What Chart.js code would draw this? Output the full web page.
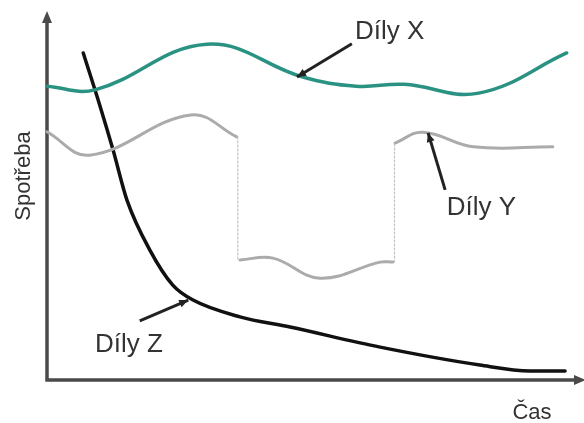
<!DOCTYPE html>
<html>
<head>
<meta charset="utf-8">
<script src="https://cdn.jsdelivr.net/npm/chart.js@4/dist/chart.umd.min.js"></script>
<style>
  html,body{margin:0;padding:0;background:#fff;}
  #wrap{width:584px;height:423px;position:relative;}
</style>
</head>
<body>
<div id="wrap"><canvas id="chart"></canvas></div>
<script>
/* ── Data (time 0–100, consumption 0–100) ── */
const dilyXTime=[0,9,30,48,58,67,81,97.5];
const dilyXVal=[80.5,79.5,92,83,80.5,81,78.6,89.6];

const dilyY1Time=[0,8,27,35.6];
const dilyY1Val=[68,61.6,72.6,66.6];
const dilyY2Time=[36.2,42.4,51.2,62.5,64.9];
const dilyY2Val=[32.9,33.4,27.9,32.3,32.3];
const dilyY3Time=[65.3,70.5,80,94.9];
const dilyY3Val=[64.9,67.9,63.9,63.9];
const dropTime=[35.8,65.2];
const dropTop=[66.6,64.9];
const dropBottom=[32.9,32.3];

const dilyZTime=[6.8,9.9,12.4,15,19.3,23.6,27.4,36.2,45.6,62.5,81.2,90.6,97.2];
const dilyZVal=[89.6,75.3,63,49.3,35.6,26,21.9,17.3,14.5,9,4.1,2.5,2.5];

/* callouts: text anchor + arrow from/to, same units */
const calloutText=['Díly X','Díly Y','Díly Z'];
const calloutX=[57.8,75,9];
const calloutY=[95.3,47.1,9.6];
const arrowFrom=[[57.2,92.1],[74.7,52.1],[17.4,16.2]];
const arrowTo=[[46.9,83.0],[71.5,67.7],[26.5,21.9]];

const axisTitleY='Spotřeba';
const axisTitleX='Čas';

const pts=(xs,ys)=>xs.map((x,i)=>({x,y:ys[i]}));
const TEXT='#333';
const AXIS='#4a4a4a';

function arrowHead(ctx,x1,y1,x2,y2,len,w){
  const a=Math.atan2(y2-y1,x2-x1);
  ctx.beginPath();
  ctx.moveTo(x2,y2);
  ctx.lineTo(x2-len*Math.cos(a)+w*Math.sin(a),y2-len*Math.sin(a)-w*Math.cos(a));
  ctx.lineTo(x2-len*Math.cos(a)-w*Math.sin(a),y2-len*Math.sin(a)+w*Math.cos(a));
  ctx.closePath();
  ctx.fill();
}

/* ── Axes with arrows + texts ── */
const decor={
  id:'decor',
  beforeDatasetsDraw(chart){
    const {ctx,chartArea:ca}=chart;
    ctx.save();
    ctx.strokeStyle=AXIS;ctx.fillStyle=AXIS;ctx.lineWidth=3.5;
    ctx.beginPath();
    ctx.moveTo(ca.left,20);ctx.lineTo(ca.left,ca.bottom);ctx.lineTo(chart.width-4,ca.bottom);
    ctx.stroke();
    arrowHead(ctx,ca.left,40,ca.left,11,12,5);
    arrowHead(ctx,chart.width-30,ca.bottom,chart.width+2,ca.bottom,12,5);
    ctx.restore();
  },
  afterDatasetsDraw(chart){
    const {ctx,chartArea:ca,scales:{x,y}}=chart;
    ctx.save();
    ctx.fillStyle=TEXT;ctx.textBaseline='middle';
    ctx.font='22px "Liberation Sans", Arial, sans-serif';
    ctx.textAlign='center';
    ctx.fillText(axisTitleX,ca.right-48,ca.bottom+33);
    ctx.translate(24,176);ctx.rotate(-Math.PI/2);
    ctx.fillText(axisTitleY,0,0);
    ctx.restore();

    ctx.save();
    ctx.fillStyle=TEXT;ctx.textBaseline='middle';ctx.textAlign='left';
    ctx.font='26px "Liberation Sans", Arial, sans-serif';
    calloutText.forEach((t,i)=>{
      ctx.fillText(t,x.getPixelForValue(calloutX[i]),y.getPixelForValue(calloutY[i]));
      const x1=x.getPixelForValue(arrowFrom[i][0]),y1=y.getPixelForValue(arrowFrom[i][1]);
      const x2=x.getPixelForValue(arrowTo[i][0]),y2=y.getPixelForValue(arrowTo[i][1]);
      ctx.strokeStyle='#222';ctx.fillStyle='#222';ctx.lineWidth=3;
      ctx.beginPath();ctx.moveTo(x1,y1);ctx.lineTo(x2,y2);ctx.stroke();
      arrowHead(ctx,x1,y1,x2,y2,9,4);
      ctx.fillStyle=TEXT;
    });
    ctx.restore();
  }
};

const lineBase={fill:false,pointRadius:0,tension:0.4,clip:false,borderCapStyle:'round'};
const dotted={...lineBase,tension:0,borderColor:'#c4c4c4',borderWidth:1.2,borderDash:[2,2]};

const datasets=[
  {...dotted,label:'drop',data:[{x:dropTime[0],y:dropTop[0]},{x:dropTime[0],y:dropBottom[0]}]},
  {...dotted,label:'drop2',data:[{x:dropTime[1],y:dropBottom[1]},{x:dropTime[1],y:dropTop[1]}]},
  {...lineBase,label:'Díly Y',data:pts(dilyY1Time,dilyY1Val),borderColor:'#ababab',borderWidth:3},
  {...lineBase,label:'Díly Y 2',data:pts(dilyY2Time,dilyY2Val),borderColor:'#ababab',borderWidth:3},
  {...lineBase,label:'Díly Y 3',data:pts(dilyY3Time,dilyY3Val),borderColor:'#ababab',borderWidth:3},
  {...lineBase,label:'Díly X',data:pts(dilyXTime,dilyXVal),borderColor:'#2a9282',borderWidth:3.5},
  {...lineBase,label:'Díly Z',data:pts(dilyZTime,dilyZVal),borderColor:'#111',borderWidth:3.5,cubicInterpolationMode:'monotone'}
];

new Chart(document.getElementById('chart'),{
  type:'line',
  data:{datasets},
  options:{
    responsive:true,maintainAspectRatio:false,animation:false,
    layout:{padding:{left:47,right:4,top:15,bottom:43}},
    plugins:{legend:{display:false},tooltip:{enabled:false}},
    scales:{
      x:{type:'linear',min:0,max:100,display:false},
      y:{type:'linear',min:0,max:100,display:false}
    }
  },
  plugins:[decor]
});
</script>
</body>
</html>
